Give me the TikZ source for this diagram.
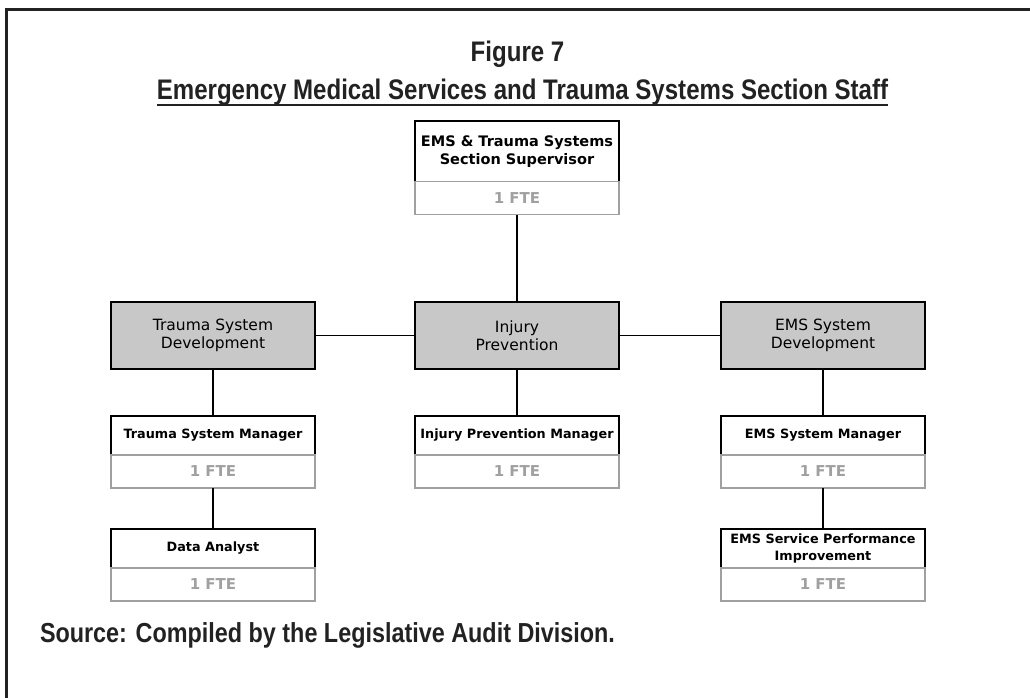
\documentclass[tikz,border=0pt]{standalone}
\usepackage{fontspec}
\setmainfont{DejaVu Sans}
\newfontfamily\titlefont[FakeStretch=0.85]{Liberation Sans}
\definecolor{devgray}{HTML}{C8C8C8}
\definecolor{ftegray}{HTML}{A0A0A0}
\definecolor{framecol}{HTML}{222222}
\tikzset{
  every node/.style={inner sep=0pt, outer sep=0pt},
  titlebox/.style={draw=black, line width=1.8pt, fill=white, minimum width=204pt, align=center,
    font=\bfseries\fontsize{12.8}{17}\selectfont},
  ftebox/.style={draw=ftegray, line width=1.8pt, fill=white, minimum width=204pt, minimum height=33pt,
    text=ftegray, font=\bfseries\fontsize{15}{18}\selectfont},
  devbox/.style={draw=black, line width=1.8pt, fill=devgray, minimum width=204pt, minimum height=67pt,
    align=center, font=\fontsize{15.5}{18}\selectfont},
  link/.style={draw=black, line width=1.8pt},
  bigtext/.style={font=\titlefont\bfseries\fontsize{28.3}{32}\selectfont, text=framecol}
}
\begin{document}
\begin{tikzpicture}[x=1pt,y=-1pt]
\useasboundingbox (0,0) rectangle (1030,698);
\draw[line width=3pt, framecol] (6.5,700) -- (6.5,9.5) -- (1032,9.5);

% titles
\node[bigtext, anchor=base] (fig) at (517.5,62) {Figure 7};
\node[bigtext, anchor=base] (heading) at (522.5,100) {Emergency Medical Services and Trauma Systems Section Staff};
\draw[line width=2pt, framecol] ([yshift=-5pt]heading.base west) -- ([yshift=-5pt]heading.base east);

% supervisor
\node[titlebox, minimum height=61pt, font=\bfseries\fontsize{14.5}{18}\selectfont] (sup) at (517,151.5) {EMS \& Trauma Systems\\Section Supervisor};
\node[ftebox] (supf) at (517,198) {1 FTE};

% development boxes
\node[devbox] (tsd) at (213,335.5) {Trauma System\\Development};
\node[devbox] (ip) at (517,335.5) {Injury\\Prevention};
\node[devbox] (emsd) at (823,335.5) {EMS System\\Development};

% managers
\node[titlebox, minimum height=39pt] (tsm) at (213,435.5) {Trauma System Manager};
\node[ftebox] (tsmf) at (213,471.5) {1 FTE};
\node[titlebox, minimum height=39pt] (ipm) at (517,435.5) {Injury Prevention Manager};
\node[ftebox] (ipmf) at (517,471.5) {1 FTE};
\node[titlebox, minimum height=39pt] (emsm) at (823,435.5) {EMS System Manager};
\node[ftebox] (emsmf) at (823,471.5) {1 FTE};

% bottom row
\node[titlebox, minimum height=39pt] (da) at (213,548.5) {Data Analyst};
\node[ftebox] (daf) at (213,584.5) {1 FTE};
\node[titlebox, minimum height=39pt] (emsp) at (823,548.5) {EMS Service Performance\\Improvement};
\node[ftebox] (emspf) at (823,584.5) {1 FTE};

% connectors
\draw[link] (supf.south) -- (ip.north);
\draw[link] (tsd.east) -- (ip.west);
\draw[link] (ip.east) -- (emsd.west);
\draw[link] (tsd.south) -- (tsm.north);
\draw[link] (ip.south) -- (ipm.north);
\draw[link] (emsd.south) -- (emsm.north);
\draw[link] (tsmf.south) -- (da.north);
\draw[link] (emsmf.south) -- (emsp.north);

% source
\node[bigtext, anchor=base west, font=\titlefont\bfseries\fontsize{27.5}{30}\selectfont] (src) at (40,642) {Source: Compiled by the Legislative Audit Division.};
\end{tikzpicture}
\end{document}
